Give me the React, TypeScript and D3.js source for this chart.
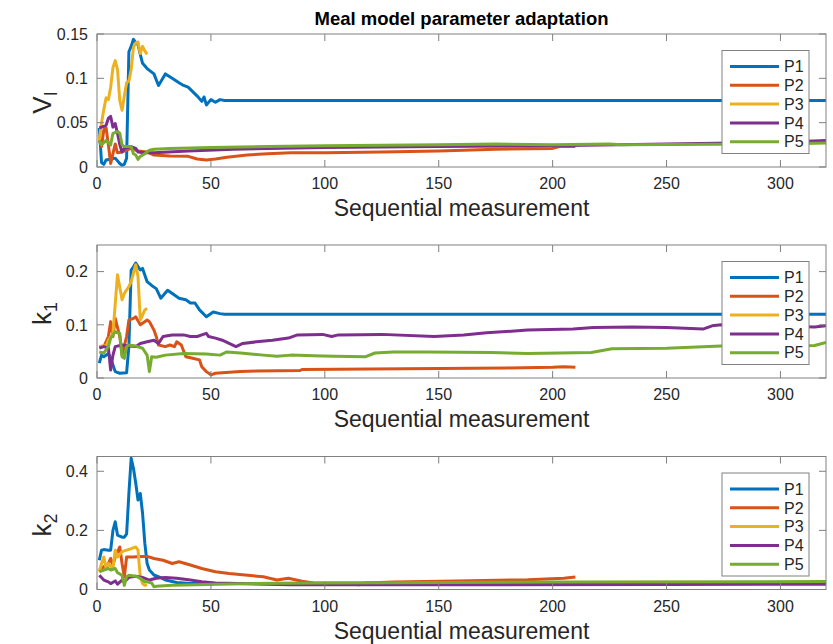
import React from "react";
import * as d3 from "d3";

const viP1 = [[1,0.044],[2,0.005],[3,0.003],[4,0.008],[6,0.009],[8,0.01],[10,0.004],[11,0.002],[12,0.003],[13,0.01],[14,0.13],[15,0.136],[16,0.144],[17,0.14],[18,0.138],[19,0.127],[20,0.117],[22,0.111],[25,0.105],[27,0.092],[30,0.105],[33,0.1],[36,0.095],[38,0.092],[40,0.09],[42,0.085],[44,0.08],[46,0.074],[47,0.079],[48,0.07],[50,0.076],[52,0.073],[54,0.076],[56,0.075],[320,0.075]];
const viP2 = [[1,0.03],[2,0.023],[3,0.042],[4,0.044],[5,0.025],[6,0.004],[7,0.015],[8,0.026],[9,0.016],[11,0.017],[13,0.019],[15,0.021],[18,0.018],[22,0.017],[25,0.0135],[32,0.0125],[40,0.012],[44,0.009],[48,0.008],[52,0.009],[57,0.011],[66,0.0135],[75,0.015],[85,0.016],[100,0.016],[125,0.017],[150,0.018],[175,0.02],[200,0.021],[203,0.023],[210,0.023]];
const viP3 = [[1,0.03],[2,0.05],[3,0.065],[4,0.078],[5,0.076],[6,0.09],[7,0.112],[8,0.12],[9,0.11],[10,0.075],[11,0.064],[12,0.08],[13,0.095],[14,0.097],[15,0.11],[16,0.135],[17,0.14],[18,0.141],[19,0.128],[20,0.136],[21,0.131],[22,0.127]];
const viP4 = [[1,0.044],[2,0.045],[4,0.047],[5,0.055],[6,0.057],[7,0.045],[8,0.049],[9,0.038],[10,0.025],[11,0.017],[12,0.021],[15,0.023],[17,0.021],[18,0.017],[21,0.016],[25,0.016],[40,0.018],[60,0.02],[100,0.022],[150,0.023],[200,0.024],[250,0.026],[300,0.028],[320,0.03]];
const viP5 = [[1,0.03],[2,0.025],[4,0.03],[6,0.025],[7,0.038],[9,0.04],[10,0.038],[11,0.025],[12,0.023],[15,0.023],[16,0.015],[17,0.0135],[18,0.0086],[19,0.012],[21,0.015],[23,0.019],[25,0.02],[32,0.021],[50,0.022],[75,0.023],[100,0.024],[150,0.025],[175,0.026],[200,0.025],[225,0.026],[230,0.025],[300,0.026],[320,0.027]];

const k1P1 = [[1,0.028],[2,0.043],[3,0.04],[5,0.046],[6,0.037],[8,0.012],[10,0.009],[13,0.01],[14,0.06],[15,0.203],[16,0.209],[17,0.216],[19,0.203],[20,0.206],[22,0.181],[24,0.174],[26,0.168],[28,0.15],[31,0.165],[34,0.156],[36,0.15],[39,0.147],[41,0.141],[43,0.141],[45,0.128],[48,0.115],[49,0.118],[51,0.124],[54,0.121],[56,0.12],[320,0.12]];
const k1P2 = [[1,0.059],[3,0.059],[5,0.078],[6,0.106],[7,0.078],[8,0.112],[10,0.078],[11,0.043],[13,0.078],[14,0.109],[16,0.112],[17,0.115],[19,0.1],[20,0.103],[22,0.109],[23,0.106],[25,0.09],[26,0.078],[27,0.062],[30,0.059],[32,0.062],[34,0.059],[35,0.068],[37,0.062],[39,0.04],[42,0.037],[45,0.034],[46,0.021],[48,0.012],[50,0.006],[52,0.009],[55,0.01],[63,0.012],[70,0.013],[89,0.014],[90,0.016],[120,0.017],[150,0.018],[180,0.019],[200,0.02],[205,0.021],[210,0.02]];
const k1P3 = [[1,0.059],[3,0.061],[4,0.059],[5,0.071],[7,0.084],[9,0.194],[11,0.147],[12,0.159],[14,0.172],[15,0.181],[16,0.197],[17,0.213],[18,0.191],[19,0.109],[21,0.128],[22,0.131]];
const k1P4 = [[1,0.056],[3,0.059],[5,0.056],[6,0.015],[7,0.043],[8,0.059],[11,0.062],[14,0.06],[17,0.059],[19,0.065],[22,0.068],[25,0.071],[27,0.065],[29,0.078],[33,0.081],[38,0.081],[41,0.078],[44,0.078],[46,0.081],[48,0.084],[49,0.078],[52,0.075],[55,0.071],[58,0.065],[61,0.059],[64,0.065],[70,0.068],[77,0.071],[84,0.075],[88,0.081],[99,0.082],[103,0.078],[106,0.081],[125,0.082],[148,0.078],[161,0.081],[171,0.085],[189,0.09],[209,0.092],[218,0.095],[235,0.096],[250,0.095],[266,0.092],[270,0.098],[274,0.1],[315,0.096],[320,0.098]];
const k1P5 = [[1,0.049],[3,0.047],[5,0.059],[6,0.075],[8,0.087],[10,0.084],[11,0.04],[12,0.037],[13,0.059],[14,0.062],[17,0.06],[20,0.056],[22,0.043],[23,0.012],[24,0.04],[26,0.039],[30,0.043],[38,0.046],[48,0.045],[54,0.043],[57,0.049],[63,0.047],[73,0.043],[79,0.041],[85,0.043],[95,0.042],[104,0.041],[118,0.04],[122,0.047],[130,0.049],[145,0.049],[173,0.048],[189,0.046],[217,0.048],[226,0.055],[250,0.056],[274,0.06],[315,0.061],[320,0.067]];

const k2P1 = [[1,0.099],[2,0.133],[3,0.135],[5,0.133],[6,0.133],[7,0.2],[8,0.229],[9,0.184],[11,0.177],[12,0.177],[13,0.188],[14,0.325],[15,0.444],[16,0.41],[17,0.36],[18,0.303],[19,0.325],[20,0.258],[21,0.156],[22,0.088],[23,0.066],[25,0.049],[28,0.04],[30,0.032],[35,0.024],[41,0.02],[100,0.021],[200,0.022],[320,0.022]];
const k2P2 = [[1,0.066],[3,0.077],[5,0.088],[6,0.105],[7,0.083],[8,0.11],[10,0.144],[11,0.088],[12,0.043],[13,0.11],[16,0.11],[19,0.112],[22,0.112],[25,0.105],[29,0.099],[33,0.088],[36,0.094],[41,0.083],[46,0.071],[52,0.06],[58,0.054],[65,0.049],[73,0.043],[79,0.032],[84,0.038],[90,0.028],[95,0.022],[110,0.02],[115,0.016],[118,0.022],[130,0.025],[158,0.029],[189,0.033],[205,0.038],[210,0.042]];
const k2P3 = [[1,0.06],[2,0.088],[3,0.11],[4,0.071],[5,0.088],[7,0.071],[8,0.133],[9,0.11],[11,0.128],[13,0.133],[15,0.138],[17,0.144],[18,0.133],[19,0.043],[20,0.02],[21,0.014],[22,0.016]];
const k2P4 = [[1,0.048],[3,0.032],[5,0.026],[6,0.02],[8,0.029],[9,0.018],[11,0.032],[12,0.026],[14,0.041],[17,0.045],[20,0.041],[23,0.032],[26,0.038],[30,0.041],[35,0.038],[41,0.032],[46,0.026],[52,0.022],[62,0.02],[85,0.016],[150,0.016],[250,0.017],[320,0.018]];
const k2P5 = [[1,0.06],[3,0.066],[5,0.071],[6,0.066],[8,0.071],[9,0.057],[11,0.048],[12,0.014],[13,0.043],[14,0.048],[17,0.045],[19,0.038],[21,0.026],[22,0.026],[24,0.022],[25,0.009],[26,0.011],[33,0.014],[48,0.017],[70,0.02],[100,0.022],[200,0.025],[320,0.027]];

const seriesNames = ["P1", "P2", "P3", "P4", "P5"];
const colors = ["#0072BD", "#D95319", "#EDB120", "#7E2F8E", "#77AC30"];
const xTicks = [0, 50, 100, 150, 200, 250, 300];

const panels = [
  { label: "V", sub: "I", yMax: 0.15, yTicks: [0, 0.05, 0.1, 0.15], series: [viP1, viP2, viP3, viP4, viP5] },
  { label: "k", sub: "1", yMax: 0.25, yTicks: [0, 0.1, 0.2], series: [k1P1, k1P2, k1P3, k1P4, k1P5] },
  { label: "k", sub: "2", yMax: 0.45, yTicks: [0, 0.2, 0.4], series: [k2P1, k2P2, k2P3, k2P4, k2P5] },
];

const W = 833, H = 644;
const left = 97, right = 826, plotH = 133;
const tops = [34, 245, 456.5];
const font = "'Liberation Sans', Arial, Helvetica, sans-serif";
const axisColor = "#808080";
const textColor = "#262626";

const x = d3.scaleLinear().domain([0, 320]).range([left, right]);

function Panel({ p, top, idx }: any) {
  const bottom = top + plotH;
  const y = d3.scaleLinear().domain([0, p.yMax]).range([bottom, top]);
  const line = d3.line<number[]>().x(d => x(d[0])).y(d => y(d[1]));
  const tl = 7;
  const lx = 722, ly = top + 16.5;
  return (
    <g>
      <defs>
        <clipPath id={"clip" + idx}>
          <rect x={left} y={top} width={right - left} height={plotH} />
        </clipPath>
      </defs>
      <g clipPath={`url(#clip${idx})`}>
        {p.series.map((s: number[][], i: number) => (
          <path key={i} d={line(s) || ""} fill="none" stroke={colors[i]} strokeWidth={3} strokeLinejoin="round" />
        ))}
      </g>
      <rect x={left} y={top} width={right - left} height={plotH} fill="none" stroke={axisColor} strokeWidth={1} />
      {xTicks.map(t => (
        <g key={t}>
          <line x1={x(t)} x2={x(t)} y1={bottom} y2={bottom - tl} stroke={axisColor} />
          <line x1={x(t)} x2={x(t)} y1={top} y2={top + tl} stroke={axisColor} />
          <text x={x(t)} y={bottom + 22} textAnchor="middle" fontSize={16} fill={textColor}>{t}</text>
        </g>
      ))}
      {p.yTicks.map((t: number) => (
        <g key={t}>
          <line x1={left} x2={left + tl} y1={y(t)} y2={y(t)} stroke={axisColor} />
          <line x1={right} x2={right - tl} y1={y(t)} y2={y(t)} stroke={axisColor} />
          <text x={left - 9} y={y(t)} dy="0.36em" textAnchor="end" fontSize={16} fill={textColor}>{String(t)}</text>
        </g>
      ))}
      <text transform={`translate(51,${(top + bottom) / 2 + 2}) rotate(-90)`} textAnchor="middle" fontSize={26} fill={textColor}>
        {p.label}<tspan dy="6" fontSize={18}>{p.sub}</tspan>
      </text>
      <text x={(left + right) / 2} y={bottom + 49} textAnchor="middle" fontSize={23} fill={textColor}>Sequential measurement</text>
      <rect x={lx} y={ly} width={87} height={103} fill="#fff" stroke={axisColor} strokeWidth={1} />
      {seriesNames.map((n, i) => (
        <g key={n}>
          <line x1={lx + 8} x2={lx + 57} y1={ly + 16 + i * 18.8} y2={ly + 16 + i * 18.8} stroke={colors[i]} strokeWidth={3} />
          <text x={lx + 62} y={ly + 16 + i * 18.8} dy="0.36em" fontSize={16} fill={textColor}>{n}</text>
        </g>
      ))}
    </g>
  );
}

export default function App() {
  return (
    <svg width={W} height={H} style={{ position: "absolute", left: 0, top: 0, background: "#fff" }} fontFamily={font}>
      <rect width={W} height={H} fill="#fff" />
      <text x={(left + right) / 2} y={25} textAnchor="middle" fontSize={18.5} fontWeight="bold" fill="#000">
        Meal model parameter adaptation
      </text>
      {panels.map((p, i) => (
        <Panel key={i} p={p} top={tops[i]} idx={i} />
      ))}
    </svg>
  );
}
